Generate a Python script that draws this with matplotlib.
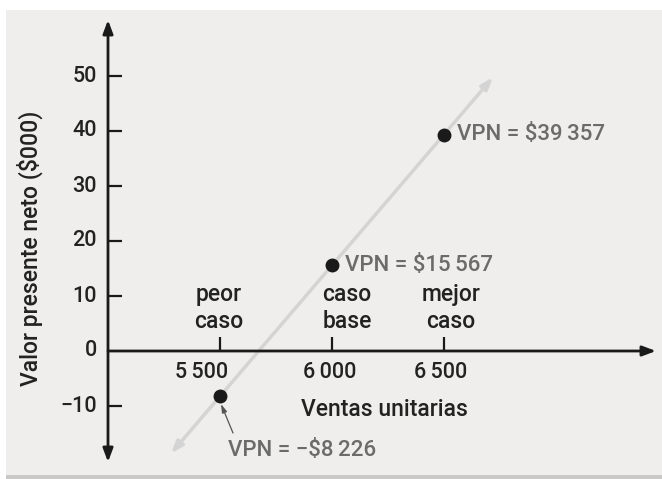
import matplotlib
matplotlib.use("Agg")
import matplotlib.pyplot as plt
from matplotlib.patches import Rectangle

# ---- data ----
cases = ["peor\ncaso", "caso\nbase", "mejor\ncaso"]
unit_sales = [5500, 6000, 6500]
npv_thousands = [-8.226, 15.567, 39.357]
npv_labels = ["VPN = \u2212$8\u2009226", "VPN = $15\u2009567", "VPN = $39\u2009357"]
x_tick_values = [5500, 6000, 6500]
x_tick_labels = ["5\u2009500", "6\u2009000", "6\u2009500"]
y_tick_values = [-10, 0, 10, 20, 30, 40, 50]
y_tick_labels = ["\u221210", "0", "10", "20", "30", "40", "50"]
line_x = [5281, 6719]  # extent of the sensitivity line (unit sales)

W, H = 662, 479
fig = plt.figure(figsize=(W / 100, H / 100), dpi=100)
fig.patch.set_facecolor("white")

# background panel
fig.patches.append(Rectangle((6 / W, 4 / H), (W - 6) / W, (H - 14) / H,
                             transform=fig.transFigure, facecolor="#efeeec",
                             edgecolor="none", zorder=-10))
fig.patches.append(Rectangle((6 / W, 0), (W - 6) / W, 4 / H,
                             transform=fig.transFigure, facecolor="#c9c9c9",
                             edgecolor="none", zorder=-10))

ax = fig.add_axes([0, 0, 1, 1])
ax.set_axis_off()
ax.patch.set_visible(False)
# pixel mapping: x_px = 108 + (v-5000)*0.224 ; y_px = 351 - 5.5*v
sx = 0.224
sy = 5.5
ax.set_xlim(5000 - 108 / sx, 5000 + (W - 108) / sx)
ax.set_ylim(-(H - 351) / sy, 351 / sy)

def px2x(p):
    return 5000 + (p - 108) / sx

def px2y(p):
    return (351 - p) / sy

FONT = ["Roboto", "DejaVu Sans"]
WT = "medium"
TXT = "#222222"
fs = 15.5      # numbers
fs_w = 16.5    # words
fs_v = 16      # VPN labels

# axes with arrows
ax.annotate("", xy=(px2x(656), 0), xytext=(5000, 0),
            arrowprops=dict(arrowstyle="-|>,head_length=0.8,head_width=0.3",
                            color="#1a1a1a", lw=2, shrinkA=0, shrinkB=0))
ax.annotate("", xy=(5000, px2y(20)), xytext=(5000, px2y(462)),
            arrowprops=dict(arrowstyle="<|-|>,head_length=0.8,head_width=0.3",
                            color="#1a1a1a", lw=2, shrinkA=0, shrinkB=0))

# y ticks
for v, lab in zip(y_tick_values, y_tick_labels):
    if v != 0:
        ax.plot([5000, px2x(122)], [v, v], color="#1a1a1a", lw=1.6, solid_capstyle="butt")
    ax.text(px2x(97), v, lab, ha="right", va="center", fontsize=fs,
            family=FONT, weight=WT, color=TXT)

# x ticks
tick_label_px = [202, 330, 441]
for v, lab, lp in zip(x_tick_values, x_tick_labels, tick_label_px):
    ax.plot([v, v], [0, px2y(337)], color="#1a1a1a", lw=1.6, solid_capstyle="butt")
    ax.text(px2x(lp), px2y(373), lab, ha="center", va="center", fontsize=fs,
            family=FONT, weight=WT, color=TXT)

# case labels
case_px = [219, 347, 451]
for c, cp in zip(cases, case_px):
    ax.text(px2x(cp), px2y(308), c, ha="center", va="center", fontsize=fs_w,
            family=FONT, weight=WT, color=TXT, linespacing=1.18)

# sensitivity line
slope = (npv_thousands[2] - npv_thousands[0]) / (unit_sales[2] - unit_sales[0])
ly = [npv_thousands[0] + slope * (x - unit_sales[0]) for x in line_x]
ax.annotate("", xy=(line_x[1], ly[1]), xytext=(line_x[0], ly[0]),
            arrowprops=dict(arrowstyle="<|-|>,head_length=0.7,head_width=0.25",
                            color="#d4d4d4", lw=2.5, shrinkA=0, shrinkB=0), zorder=2)

# points
ax.plot(unit_sales, npv_thousands, "o", color="#1a1a1a", ms=9, zorder=5)

# NPV labels
GRAY = "#6b6b6b"
ax.text(px2x(457), npv_thousands[2], npv_labels[2], ha="left", va="center",
        fontsize=fs_v, family=FONT, weight=WT, color=GRAY)
ax.text(px2x(345), npv_thousands[1], npv_labels[1], ha="left", va="center",
        fontsize=fs_v, family=FONT, weight=WT, color=GRAY)
ax.text(px2x(228), px2y(451), npv_labels[0], ha="left", va="center",
        fontsize=fs_v, family=FONT, weight=WT, color=GRAY)
ax.annotate("", xy=(px2x(221), px2y(404)), xytext=(px2x(233), px2y(433)),
            arrowprops=dict(arrowstyle="-|>,head_length=0.5,head_width=0.15",
                            color="#555555", lw=0.9, shrinkA=0, shrinkB=0))

# axis titles
ax.text(px2x(384), px2y(409), "Ventas unitarias", ha="center", va="center",
        fontsize=fs_w, family=FONT, weight=WT, color=TXT)
ax.text(px2x(30), px2y(248), "Valor presente neto ($000)", ha="center",
        va="center", rotation=90, fontsize=fs_w, family=FONT, weight=WT, color=TXT)

fig.savefig("out.png", dpi=100, facecolor=fig.get_facecolor())
